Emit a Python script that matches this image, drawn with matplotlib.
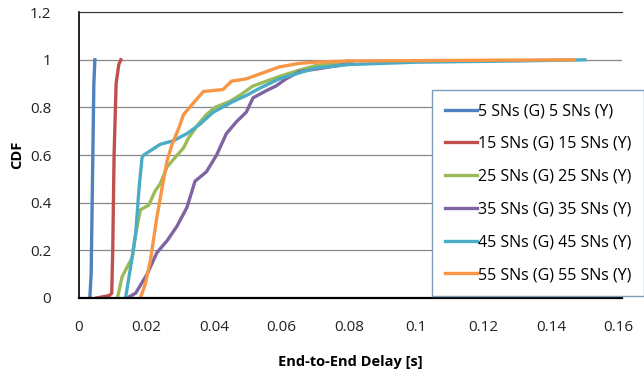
import matplotlib
matplotlib.use("Agg")
import matplotlib.pyplot as plt

plt.rcParams['font.family'] = ['Open Sans', 'DejaVu Sans']

# Werte (Verzögerung in s, CDF)
labels = ["5 SNs (G) 5 SNs (Y)", "15 SNs (G) 15 SNs (Y)", "25 SNs (G) 25 SNs (Y)",
          "35 SNs (G) 35 SNs (Y)", "45 SNs (G) 45 SNs (Y)", "55 SNs (G) 55 SNs (Y)"]
farben = ["#4F81BD", "#C0504D", "#9BBB59", "#8064A2", "#4BACC6", "#F79646"]

x5 = [0.0032, 0.0036, 0.0040, 0.0044, 0.0047]
y5 = [0.0, 0.10, 0.50, 0.90, 1.0]

x15 = [0.0053, 0.0090, 0.0097, 0.0100, 0.0104, 0.0110, 0.0118, 0.0124]
y15 = [0.0, 0.01, 0.02, 0.20, 0.60, 0.90, 0.98, 1.0]

x25 = [0.0114, 0.0128, 0.0143, 0.0158, 0.0168, 0.0182, 0.0207, 0.0226, 0.0241,
       0.0261, 0.0285, 0.0310, 0.0324, 0.0354, 0.0378, 0.0403, 0.0447, 0.0476,
       0.0516, 0.0555, 0.0594, 0.0650, 0.0700, 0.0800]
y25 = [0.0, 0.09, 0.13, 0.17, 0.27, 0.37, 0.39, 0.45, 0.48,
       0.55, 0.59, 0.63, 0.67, 0.73, 0.77, 0.80, 0.825, 0.85,
       0.89, 0.91, 0.93, 0.955, 0.975, 0.995]

x35 = [0.0143, 0.0168, 0.0202, 0.0231, 0.0261, 0.0290, 0.0320, 0.0344, 0.0378,
       0.0408, 0.0437, 0.0467, 0.0496, 0.0516, 0.0555, 0.0584, 0.0614, 0.0653,
       0.0720, 0.0810]
y35 = [0.0, 0.02, 0.10, 0.19, 0.24, 0.30, 0.38, 0.49, 0.53,
       0.60, 0.69, 0.74, 0.78, 0.84, 0.87, 0.89, 0.92, 0.95,
       0.965, 0.985]

x45 = [0.0138, 0.0153, 0.0168, 0.0178, 0.0187, 0.0192, 0.0241, 0.0280, 0.0320,
       0.0359, 0.0398, 0.0457, 0.0496, 0.0535, 0.0594, 0.0700, 0.0800, 0.1000,
       0.1300, 0.1500]
y45 = [0.0, 0.13, 0.27, 0.46, 0.59, 0.60, 0.645, 0.66, 0.69,
       0.73, 0.78, 0.825, 0.85, 0.88, 0.92, 0.965, 0.98, 0.99,
       0.995, 1.0]

x55 = [0.0182, 0.0197, 0.0212, 0.0231, 0.0246, 0.0261, 0.0276, 0.0295, 0.0310,
       0.0334, 0.0369, 0.0427, 0.0452, 0.0496, 0.0555, 0.0594, 0.0653, 0.0702,
       0.0800, 0.1200, 0.1467]
y55 = [0.0, 0.06, 0.16, 0.34, 0.46, 0.575, 0.645, 0.71, 0.77,
       0.81, 0.867, 0.875, 0.91, 0.92, 0.95, 0.97, 0.985, 0.99,
       0.995, 0.998, 1.0]

xs = [x5, x15, x25, x35, x45, x55]
ys = [y5, y15, y25, y35, y45, y55]

fig = plt.figure(figsize=(6.44, 3.80), dpi=100)
ax = fig.add_axes([0.1227, 0.216, 0.843, 0.752])

for i in range(len(xs)):
    ax.plot(xs[i], ys[i], color=farben[i], linewidth=2.4, label=labels[i])

ax.set_xlim(0, 0.161)
ax.set_ylim(0, 1.2)
ax.set_xticks([0, 0.02, 0.04, 0.06, 0.08, 0.1, 0.12, 0.14, 0.16])
ax.set_xticklabels(["0", "0.02", "0.04", "0.06", "0.08", "0.1", "0.12", "0.14", "0.16"])
ax.set_yticks([0, 0.2, 0.4, 0.6, 0.8, 1, 1.2])
ax.set_yticklabels(["0", "0.2", "0.4", "0.6", "0.8", "1", "1.2"])
ax.tick_params(length=0, labelsize=11, colors="#222222")
ax.tick_params(axis='y', pad=20)
ax.tick_params(axis='x', pad=16)

ax.grid(axis='y', color="#888888", linewidth=0.9)
ax.set_axisbelow(True)
ax.spines['right'].set_visible(False)
ax.spines['top'].set_color("#333333")
ax.spines['left'].set_linewidth(1.2)
ax.spines['bottom'].set_linewidth(1.6)

ax.set_xlabel("End-to-End Delay [s]", fontsize=10.5, fontweight='bold', labelpad=14)
ax.set_ylabel("CDF", fontsize=10.5, fontweight='bold', labelpad=4)

leg = fig.legend(loc='upper left', bbox_to_anchor=(0.671, 0.762), fontsize=11.5,
                 handlelength=2.0, handletextpad=0.05, labelspacing=1.05,
                 borderpad=0.8, borderaxespad=0.0, fancybox=False, framealpha=1)
leg.get_frame().set_edgecolor("#7F9DB9")
leg.get_frame().set_linewidth(1.0)

fig.savefig("out.png", dpi=100)
